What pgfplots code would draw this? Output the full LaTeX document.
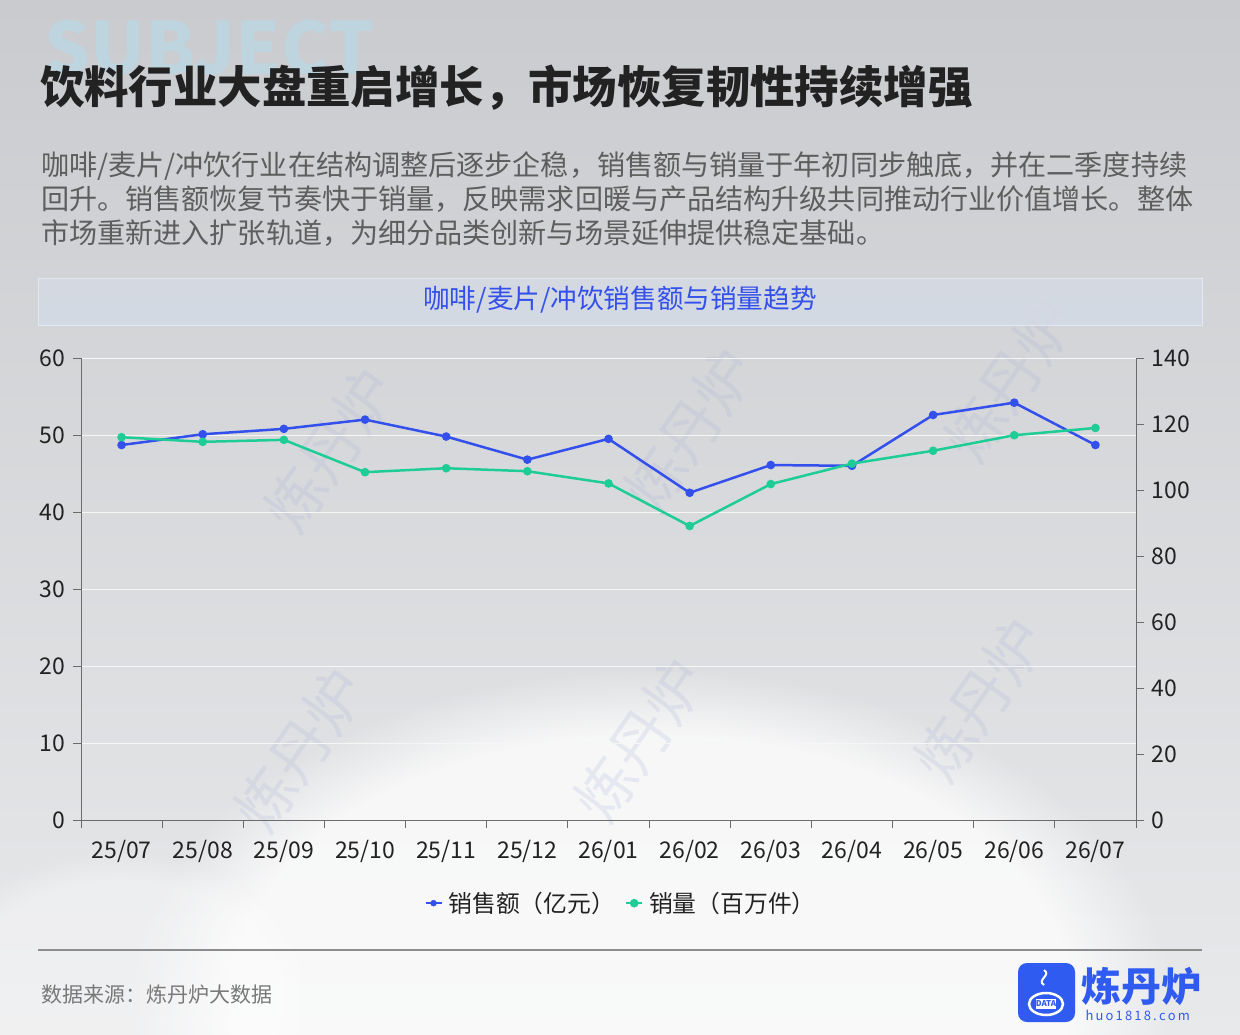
\documentclass[border=0pt]{standalone}
\usepackage{fontspec}
\setmainfont{Noto Sans CJK SC}
\usepackage{pgfplots}
\pgfplotsset{compat=1.18}
\usetikzlibrary{fadings}

\definecolor{cblue}{HTML}{3450EC}
\definecolor{cgreen}{HTML}{1ECC96}
\definecolor{bgtop}{RGB}{202,203,206}
\definecolor{bgbot}{RGB}{232,233,235}
\definecolor{txt}{HTML}{222222}
\definecolor{subtxt}{HTML}{5E5E5E}
\definecolor{wm}{RGB}{165,175,215}
\definecolor{subj}{RGB}{190,212,222}
\definecolor{boxfill}{RGB}{212,218,228}
\definecolor{boxline}{RGB}{226,232,242}
\definecolor{logoblue}{HTML}{2F5BF0}

\pgfplotsset{
  common/.style={
    at={(81pt,-820pt)}, anchor=south west,
    scale only axis, width=1055pt, height=462pt,
    xmin=-0.5, xmax=12.5,
    tick align=outside,
    major tick length=8pt, minor tick length=8pt,
    tick style={draw=gray!85!black, line width=1pt},
    axis line style={-, draw=gray!85!black, line width=1pt},
    /pgf/number format/assume math mode=true,
    ticklabel style={font=\fontsize{23}{25}\selectfont, text=txt},
  },
}

\begin{document}
\begin{tikzpicture}[x=1pt,y=1pt]
\useasboundingbox (0,0) rectangle (1240,-1034);
% background
\shade[top color=bgtop, bottom color=bgbot] (0,0) rectangle (1240,-1034);
\fill[white, opacity=0.75, path fading=circle with fuzzy edge 20 percent] (650,-1000) ellipse (520 and 330);
\fill[white, opacity=0.35, path fading=circle with fuzzy edge 20 percent] (120,-1000) ellipse (200 and 150);
% watermark
\node[anchor=north west, text=subj, font=\fontsize{72}{72}\selectfont\bfseries, inner sep=0pt] at (44,-20) {SUBJECT};
\foreach \px/\py in {330/-450, 690/-430, 1010/-380, 980/-700, 640/-740, 300/-750}{
  \node[rotate=55, text=wm, opacity=0.2, font=\fontsize{60}{60}\selectfont] at (\px,\py) {炼丹炉};
}
% title
\node[anchor=base west, text=txt, font=\fontsize{44.4}{52}\selectfont\bfseries, inner sep=0pt] at (40,-103) {饮料行业大盘重启增长，市场恢复韧性持续增强};
\begin{scope}[every node/.style={anchor=base west, text=subtxt, font=\fontsize{28.1}{34}\selectfont, inner sep=0pt}]
\node at (41,-175) {咖啡/麦片/冲饮行业在结构调整后逐步企稳，销售额与销量于年初同步触底，并在二季度持续};
\node at (41,-209) {回升。销售额恢复节奏快于销量，反映需求回暖与产品结构升级共同推动行业价值增长。整体};
\node at (41,-243) {市场重新进入扩张轨道，为细分品类创新与场景延伸提供稳定基础。};
\end{scope}
% chart title box
\fill[boxfill, opacity=0.85] (38,-278) rectangle (1202,-325);
\draw[boxline, line width=1pt] (38,-278) rectangle (1202,-325);
\node[text=cblue, font=\fontsize{26.6}{30}\selectfont] at (620,-300) {咖啡/麦片/冲饮销售额与销量趋势};

\begin{axis}[common,
  ymin=0, ymax=60, ytick={0,10,...,60},
  axis x line*=bottom, axis y line*=left,
  ymajorgrids, grid style={draw=white!93!gray, line width=1pt},
  xtick={0,...,12},
  xticklabels={25/07,25/08,25/09,25/10,25/11,25/12,26/01,26/02,26/03,26/04,26/05,26/06,26/07},
  major x tick style={draw=none},
  minor xtick={-0.5,0.5,...,12.5},
  xticklabel style={yshift=-9pt},
  yticklabel style={xshift=-4pt},
]
\addplot[cblue, line width=2.5pt, mark=*, mark size=3pt] coordinates {
(0,48.7) (1,50.1) (2,50.8) (3,52.0) (4,49.8) (5,46.8) (6,49.5)
(7,42.5) (8,46.1) (9,46.0) (10,52.6) (11,54.2) (12,48.7)};
\end{axis}

\begin{axis}[common,
  ymin=0, ymax=140, ytick={0,20,...,140},
  axis x line=none, axis y line*=right,
  yticklabel style={xshift=4pt},
  legend style={at={(0.512,-0.18)}, anchor=center, draw=none, fill=none,
    legend columns=2, font=\fontsize{23.8}{26}\selectfont, text=txt,
    /tikz/every odd column/.append style={column sep=4pt},
    /tikz/every even column/.append style={column sep=8pt}},
  legend image code/.code={
    \draw[#1, line width=2pt, mark=none] (0pt,0pt) -- (16pt,0pt);
    \fill[#1] (8pt,0pt) circle (3pt);
  },
]
\addlegendimage{cblue}
\addlegendentry{销售额（亿元）}
\addplot[cgreen, line width=2.5pt, mark=*, mark size=3pt] coordinates {
(0,116.0) (1,114.6) (2,115.2) (3,105.4) (4,106.6) (5,105.7) (6,102.0)
(7,89.1) (8,101.8) (9,108.0) (10,111.9) (11,116.6) (12,118.8)};
\addlegendentry{销量（百万件）}
\end{axis}

% footer
\draw[gray!90, line width=1.2pt] (38,-950) -- (1202,-950);
\node[anchor=base west, text=gray!95!black, font=\fontsize{21}{24}\selectfont, inner sep=0pt] at (41,-1002) {数据来源：炼丹炉大数据};
% logo
\fill[logoblue, rounded corners=9pt] (1018,-963) rectangle (1075,-1022);
\draw[white, line width=2.5pt] (1046,-1004) ellipse (17 and 11);
\fill[white] (1036,-999) rectangle (1056,-1009);
\node[text=logoblue, font=\fontsize{8}{8}\selectfont\bfseries, inner sep=0pt] at (1046,-1004) {DATA};
\draw[white, line width=2pt] (1044,-985) .. controls (1036,-980) and (1052,-975) .. (1044,-970);
\node[anchor=west, text=logoblue, font=\fontsize{40}{44}\selectfont\bfseries] at (1078,-986) {炼丹炉};
\node[anchor=west, text=logoblue, font=\fontsize{13}{14}\selectfont] at (1082,-1015) {h\,u\,o\,1\,8\,1\,8\,.\,c\,o\,m};
\end{tikzpicture}
\end{document}
